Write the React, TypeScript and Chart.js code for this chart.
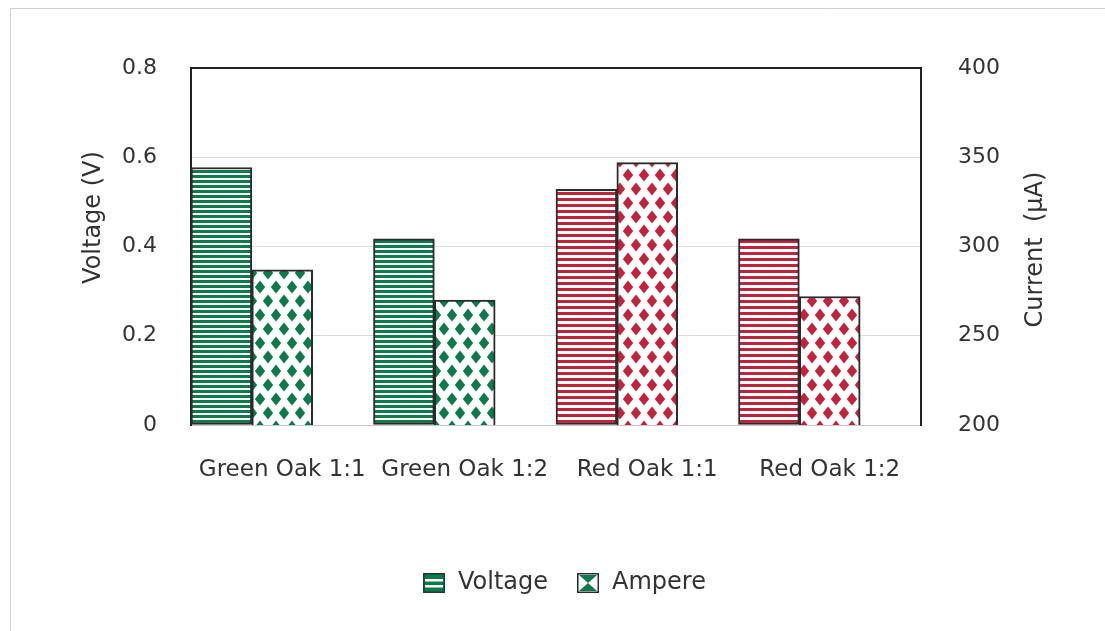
import React, { useEffect, useRef } from "react";
import { Chart, registerables } from "chart.js";

Chart.register(...registerables);

const categories = ["Green Oak 1:1", "Green Oak 1:2", "Red Oak 1:1", "Red Oak 1:2"];
const voltageValues = [0.577, 0.417, 0.528, 0.417];
const ampereValues = [287, 270, 347, 272];
const spacerValues = [null, null, null, null];
const seriesNames = ["Voltage", "Ampere"];
const voltageTicks = [0, 0.2, 0.4, 0.6, 0.8];
const currentTicks = [200, 250, 300, 350, 400];
const leftTitle = "Voltage (V)";
const rightTitle = "Current  (µA)";

const GREEN = "#0d7a4c";
const RED = "#c2233c";
const TEXT = "#333333";
const FONT = "'DejaVu Sans', sans-serif";

function mkCanvas(w: number, h: number) {
  const c = document.createElement("canvas");
  c.width = w;
  c.height = h;
  return c;
}

function stripePattern(color: string, period: number, thick: number) {
  const c = mkCanvas(8, period);
  const ctx = c.getContext("2d")!;
  ctx.fillStyle = "#ffffff";
  ctx.fillRect(0, 0, 8, period);
  ctx.fillStyle = color;
  ctx.fillRect(0, 0, 8, thick);
  return ctx.createPattern(c, "repeat")!;
}

function diamondPattern(color: string) {
  const w = 16;
  const h = 28;
  const c = mkCanvas(w, h);
  const ctx = c.getContext("2d")!;
  ctx.fillStyle = "#ffffff";
  ctx.fillRect(0, 0, w, h);
  ctx.fillStyle = color;
  const centers = [
    [4, 7],
    [12, 21],
  ];
  const hw = 5.2;
  const hh = 6.4;
  for (const [cx0, cy0] of centers) {
    for (const dx of [-w, 0, w]) {
      for (const dy of [-h, 0, h]) {
        const cx = cx0 + dx;
        const cy = cy0 + dy;
        ctx.beginPath();
        ctx.moveTo(cx, cy - hh);
        ctx.lineTo(cx + hw, cy);
        ctx.lineTo(cx, cy + hh);
        ctx.lineTo(cx - hw, cy);
        ctx.closePath();
        ctx.fill();
      }
    }
  }
  return ctx.createPattern(c, "repeat")!;
}

function voltageIcon() {
  const c = mkCanvas(22, 20);
  const ctx = c.getContext("2d")!;
  ctx.fillStyle = GREEN;
  ctx.fillRect(0, 0, 22, 20);
  ctx.fillStyle = "#ffffff";
  ctx.fillRect(2, 6, 18, 2.5);
  ctx.fillRect(2, 12, 18, 2.5);
  ctx.strokeStyle = "#1f3b2e";
  ctx.lineWidth = 1.5;
  ctx.strokeRect(0.75, 0.75, 20.5, 18.5);
  return c;
}

function ampereIcon() {
  const c = mkCanvas(22, 20);
  const ctx = c.getContext("2d")!;
  ctx.fillStyle = "#ffffff";
  ctx.fillRect(0, 0, 22, 20);
  ctx.fillStyle = GREEN;
  ctx.beginPath();
  ctx.moveTo(2, 2);
  ctx.lineTo(20, 2);
  ctx.lineTo(11, 10);
  ctx.closePath();
  ctx.fill();
  ctx.beginPath();
  ctx.moveTo(2, 18);
  ctx.lineTo(20, 18);
  ctx.lineTo(11, 10);
  ctx.closePath();
  ctx.fill();
  ctx.strokeStyle = "#2a2a2a";
  ctx.lineWidth = 1.5;
  ctx.strokeRect(0.75, 0.75, 20.5, 18.5);
  return c;
}

const framePlugin = {
  id: "frame",
  beforeDraw(chart: any) {
    const ctx = chart.ctx;
    ctx.save();
    ctx.fillStyle = "#ffffff";
    ctx.fillRect(0, 0, chart.width, chart.height);
    ctx.strokeStyle = "#cfcfcf";
    ctx.lineWidth = 1;
    ctx.beginPath();
    ctx.moveTo(10.5, chart.height);
    ctx.lineTo(10.5, 8.5);
    ctx.lineTo(chart.width, 8.5);
    ctx.stroke();
    ctx.restore();
  },
};

// Both axis titles read bottom-to-top, as in the reference
const axisTitlePlugin = {
  id: "axisTitles",
  afterDraw(chart: any) {
    const ctx = chart.ctx;
    const { top, bottom } = chart.chartArea;
    const mid = (top + bottom) / 2;
    const yScale = chart.scales.y;
    const y1Scale = chart.scales.y1;
    const draw = (text: string, x: number, y: number) => {
      ctx.save();
      ctx.translate(x, y);
      ctx.rotate(-Math.PI / 2);
      ctx.fillStyle = TEXT;
      ctx.font = `24px ${FONT}`;
      ctx.textAlign = "center";
      ctx.textBaseline = "middle";
      ctx.fillText(text, 0, 0);
      ctx.restore();
    };
    draw(leftTitle, yScale.left + 20, mid - 29);
    draw(rightTitle, y1Scale.right - 18, mid + 3);
  },
};

export default function App() {
  const ref = useRef<HTMLCanvasElement | null>(null);

  useEffect(() => {
    document.body.style.margin = "0";
    const canvas = ref.current!;
    const gStripe = stripePattern(GREEN, 5, 3);
    const rStripe = stripePattern(RED, 6, 3);
    const gDia = diamondPattern(GREEN);
    const rDia = diamondPattern(RED);
    const isGreen = (i: number) => categories[i].startsWith("Green");
    const icons = [voltageIcon(), ampereIcon()];

    const chart = new Chart(canvas, {
      type: "bar",
      data: {
        labels: categories,
        datasets: [
          {
            label: seriesNames[0],
            data: voltageValues,
            yAxisID: "y",
            backgroundColor: categories.map((_, i) => (isGreen(i) ? gStripe : rStripe)),
            borderColor: "#2b2b2b",
            borderWidth: 2,
            borderSkipped: false,
          },
          {
            label: seriesNames[1],
            data: ampereValues,
            yAxisID: "y1",
            backgroundColor: categories.map((_, i) => (isGreen(i) ? gDia : rDia)),
            borderColor: "#2b2b2b",
            borderWidth: 2,
            borderSkipped: false,
          },
          {
            label: "",
            data: spacerValues,
            yAxisID: "y",
            backgroundColor: "rgba(0,0,0,0)",
          },
        ],
      } as any,
      options: {
        responsive: false,
        animation: false,
        devicePixelRatio: 1,
        layout: { padding: { left: 74, right: 51, top: 68, bottom: 26 } },
        datasets: { bar: { categoryPercentage: 1, barPercentage: 1 } },
        plugins: {
          tooltip: { enabled: false },
          legend: {
            position: "bottom",
            labels: {
              usePointStyle: true,
              padding: 28,
              color: TEXT,
              font: { family: FONT, size: 24 },
              generateLabels: () =>
                seriesNames.map((name, i) => ({
                  text: name,
                  pointStyle: icons[i],
                  fillStyle: "rgba(0,0,0,0)",
                  strokeStyle: "rgba(0,0,0,0)",
                  lineWidth: 0,
                  hidden: false,
                  datasetIndex: i,
                  fontColor: TEXT,
                })),
            },
          },
        },
        scales: {
          x: {
            grid: { display: false, drawTicks: false },
            border: { display: true, color: "#c8c8c8", width: 1 },
            ticks: { color: TEXT, font: { family: FONT, size: 23 }, padding: 31, maxRotation: 0 },
            afterFit: (s: any) => {
              s.height = 118;
            },
          },
          y: {
            position: "left",
            min: voltageTicks[0],
            max: voltageTicks[voltageTicks.length - 1],
            afterBuildTicks: (s: any) => {
              s.ticks = voltageTicks.map((v) => ({ value: v }));
            },
            grid: {
              drawTicks: false,
              color: (c: any) =>
                c.tick && c.tick.value === 0.8 ? "#222222" : c.tick && c.tick.value === 0 ? "rgba(0,0,0,0)" : "#dcdcdc",
              lineWidth: (c: any) => (c.tick && c.tick.value === 0.8 ? 2 : 1),
            },
            border: { display: true, color: "#222222", width: 2 },
            ticks: { color: TEXT, font: { family: FONT, size: 22 }, padding: 34 },
            afterFit: (s: any) => {
              s.width = 117;
            },
          },
          y1: {
            position: "right",
            min: currentTicks[0],
            max: currentTicks[currentTicks.length - 1],
            afterBuildTicks: (s: any) => {
              s.ticks = currentTicks.map((v) => ({ value: v }));
            },
            grid: { display: false, drawTicks: false },
            border: { display: true, color: "#222222", width: 2 },
            ticks: { color: TEXT, font: { family: FONT, size: 22 }, padding: 37 },
            afterFit: (s: any) => {
              s.width = 133;
            },
          },
        },
      } as any,
      plugins: [framePlugin, axisTitlePlugin],
    });
    return () => chart.destroy();
  }, []);

  return (
    <div style={{ width: 1105, height: 631 }}>
      <canvas ref={ref} width={1105} height={631} style={{ display: "block" }} />
    </div>
  );
}
